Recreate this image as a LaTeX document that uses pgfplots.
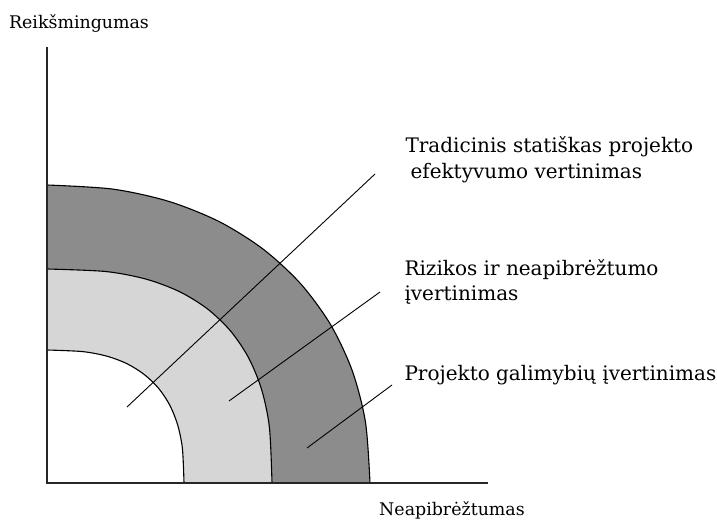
\documentclass[border=0pt]{standalone}
\usepackage{fontspec}
\setmainfont{DejaVu Serif}
\usepackage{pgfplots}
\pgfplotsset{compat=1.18}

\begin{document}
\begin{tikzpicture}
\useasboundingbox (-47pt,-37pt) rectangle (670pt,483pt);
\begin{axis}[
    x=1pt, y=1pt, anchor=origin, at={(0pt,0pt)},
    xmin=0, xmax=441, ymin=0, ymax=436,
    axis x line=bottom, axis y line=left,
    axis line style={-, line width=1.3pt, black!85},
    xtick=\empty, ytick=\empty,
    axis on top,
    clip=false,
    font=\fontsize{20}{25}\selectfont,
]

% outer ring (projekto galimybiu ivertinimas)
\addplot[smooth, fill=black!45, draw=black, line width=1.1pt] coordinates {
    (0,298) (65.8,293.9) (121.8,281.6) (172.0,261.5) (216.1,233.9)
    (253.5,199.4) (283.4,158.7) (305.2,112.4) (318.5,60.7) (323,0)
} \closedcycle;

% middle ring (rizikos ir neapibreztumo ivertinimas)
\addplot[smooth, fill=black!16, draw=black, line width=1.1pt] coordinates {
    (0,214) (58.5,211.5) (98.6,204.0) (132.0,191.6) (160.2,174.3)
    (183.3,152.3) (201.4,125.6) (214.5,93.8) (222.4,55.7) (225,0)
} \closedcycle;

% inner part
\addplot[smooth, fill=white, draw=black, line width=1.1pt] coordinates {
    (0,133) (35.6,131.4) (60.0,126.8) (80.4,119.1) (97.5,108.3)
    (111.6,94.7) (122.7,78.0) (130.6,58.3) (135.4,34.6) (137,0)
} \closedcycle;

% leader lines
\addplot[black, line width=0.9pt] coordinates {(80,76) (328,309)};
\addplot[black, line width=0.9pt] coordinates {(182,82) (333,191)};
\addplot[black, line width=0.9pt] coordinates {(260,35) (345,98)};

% labels
\node[anchor=west] at (axis cs:355,336) {Tradicinis statiškas projekto};
\node[anchor=west] at (axis cs:360,310) {efektyvumo vertinimas};
\node[anchor=west] at (axis cs:354,213) {Rizikos ir neapibrėžtumo};
\node[anchor=west] at (axis cs:354,188) {įvertinimas};
\node[anchor=west] at (axis cs:354,108) {Projekto galimybių įvertinimas};
\node at (axis cs:32,460) {\fontsize{17.4}{21}\selectfont Reikšmingumas};
\node at (axis cs:405,-27) {\fontsize{17.4}{21}\selectfont Neapibrėžtumas};

\end{axis}
\end{tikzpicture}
\end{document}
